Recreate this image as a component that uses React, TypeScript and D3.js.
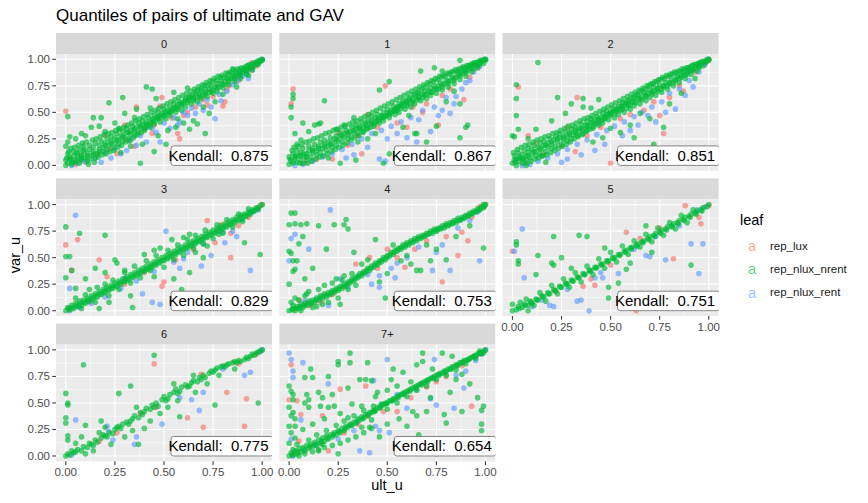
import React from "react";
import * as d3 from "d3";

// ---------- data ----------
const facetLabels = ["0", "1", "2", "3", "4", "5", "6", "7+"];
const kendall = [0.875, 0.867, 0.851, 0.829, 0.753, 0.751, 0.775, 0.654];
const tickValues = [0, 0.25, 0.5, 0.75, 1];
const tickLabels = ["0.00", "0.25", "0.50", "0.75", "1.00"];
const minorTicks = [0.125, 0.375, 0.625, 0.875];
const leafNames = ["rep_lux", "rep_nlux_nrent", "rep_nlux_rent"];
const leafColors = ["#F8766D", "#00BA38", "#619CFF"];

// points stored as flat (ult_u, var_u) pairs
const p0Lux = [0.00,0.51, 0.80,0.56, 0.81,0.60, 0.58,0.25, 0.57,0.30, 0.26,0.11, 0.35,0.18, 0.36,0.55, 0.49,0.64, 0.83,0.75, 0.82,0.71, 0.93,0.90, 0.70,0.62, 0.66,0.55, 0.54,0.45, 0.45,0.38, 0.40,0.34, 0.31,0.24, 0.22,0.15, 0.16,0.10, 0.10,0.03, 0.05,0.01, 0.62,0.50, 0.75,0.65, 0.88,0.80, 0.97,0.94, 0.30,0.38, 0.48,0.56, 0.20,0.28, 0.60,0.47, 0.72,0.57, 0.88,0.84, 0.95,0.97, 0.44,0.30];
const p0Rent = [0.79,0.61, 0.76,0.44, 0.48,0.22, 0.28,0.11, 0.41,0.22, 0.88,0.82, 0.93,0.82, 0.53,0.35, 0.50,0.40, 0.55,0.45, 0.60,0.50, 0.64,0.54, 0.68,0.58, 0.72,0.62, 0.78,0.67, 0.85,0.76, 0.90,0.84, 0.95,0.90, 0.98,0.96, 1.00,1.00, 0.44,0.35, 0.38,0.28, 0.33,0.24, 0.25,0.16, 0.20,0.12, 0.15,0.07, 0.10,0.04, 0.06,0.02, 0.03,0.00, 0.18,0.03, 0.23,0.07, 0.31,0.14, 0.36,0.19, 0.46,0.31, 0.58,0.41, 0.62,0.47, 0.70,0.52, 0.74,0.55, 0.82,0.70, 0.87,0.79, 0.92,0.87, 0.57,0.38, 0.66,0.49];
const p0Nrent = [0.00,0.00, 0.01,0.02, 0.00,0.05, 0.02,0.08, 0.01,0.11, 0.03,0.01, 0.03,0.05, 0.04,0.09, 0.04,0.13, 0.05,0.03, 0.06,0.07, 0.06,0.11, 0.07,0.15, 0.07,0.02, 0.08,0.05, 0.08,0.10, 0.09,0.13, 0.09,0.18, 0.10,0.07, 0.11,0.04, 0.11,0.11, 0.12,0.15, 0.12,0.19, 0.13,0.09, 0.14,0.13, 0.14,0.17, 0.15,0.21, 0.15,0.07, 0.16,0.11, 0.17,0.15, 0.17,0.19, 0.18,0.23, 0.19,0.13, 0.19,0.17, 0.20,0.21, 0.21,0.25, 0.21,0.15, 0.22,0.19, 0.23,0.23, 0.23,0.27, 0.24,0.17, 0.25,0.21, 0.25,0.26, 0.26,0.30, 0.27,0.20, 0.27,0.24, 0.28,0.28, 0.29,0.32, 0.29,0.23, 0.30,0.27, 0.31,0.31, 0.31,0.35, 0.32,0.25, 0.33,0.29, 0.33,0.33, 0.34,0.37, 0.35,0.28, 0.35,0.32, 0.36,0.36, 0.37,0.40, 0.37,0.31, 0.38,0.35, 0.39,0.38, 0.39,0.42, 0.40,0.33, 0.41,0.37, 0.41,0.41, 0.42,0.45, 0.43,0.36, 0.43,0.40, 0.44,0.44, 0.45,0.47, 0.45,0.39, 0.46,0.43, 0.47,0.46, 0.47,0.50, 0.48,0.41, 0.49,0.45, 0.49,0.49, 0.50,0.53, 0.51,0.44, 0.51,0.48, 0.52,0.52, 0.53,0.55, 0.53,0.47, 0.54,0.51, 0.55,0.54, 0.55,0.58, 0.56,0.50, 0.57,0.53, 0.57,0.57, 0.58,0.60, 0.59,0.52, 0.59,0.56, 0.60,0.59, 0.61,0.63, 0.61,0.55, 0.62,0.59, 0.63,0.62, 0.63,0.65, 0.64,0.58, 0.65,0.61, 0.65,0.64, 0.66,0.68, 0.67,0.60, 0.67,0.64, 0.68,0.67, 0.69,0.70, 0.69,0.63, 0.70,0.66, 0.71,0.69, 0.71,0.72, 0.72,0.65, 0.73,0.69, 0.73,0.72, 0.74,0.75, 0.75,0.68, 0.75,0.71, 0.76,0.74, 0.77,0.77, 0.77,0.70, 0.78,0.74, 0.79,0.77, 0.79,0.80, 0.80,0.73, 0.81,0.76, 0.81,0.79, 0.82,0.82, 0.83,0.76, 0.83,0.79, 0.84,0.82, 0.85,0.84, 0.86,0.79, 0.86,0.82, 0.87,0.85, 0.88,0.87, 0.89,0.82, 0.89,0.85, 0.90,0.88, 0.91,0.90, 0.92,0.86, 0.92,0.89, 0.93,0.91, 0.94,0.93, 0.95,0.90, 0.95,0.92, 0.96,0.94, 0.97,0.96, 0.98,0.95, 0.98,0.97, 0.99,0.98, 1.00,0.99, 1.00,1.00,
  0.41,0.74, 0.44,0.72, 0.29,0.64, 0.22,0.59, 0.01,0.46, 0.14,0.45, 0.18,0.45, 0.13,0.36, 0.17,0.37, 0.02,0.27, 0.00,0.18, 0.01,0.22, 0.38,0.02, 0.51,0.20, 0.45,0.13, 0.39,0.20, 0.71,0.30, 0.67,0.39, 0.73,0.49, 0.65,0.42, 0.63,0.34, 0.36,0.53, 0.30,0.49, 0.25,0.40, 0.08,0.30, 0.05,0.25, 0.10,0.28, 0.46,0.63, 0.55,0.69, 0.62,0.73, 0.85,0.91, 0.60,0.40, 0.56,0.36, 0.33,0.18, 0.28,0.12, 0.47,0.28, 0.52,0.33, 0.57,0.44, 0.70,0.55, 0.76,0.60, 0.80,0.67, 0.87,0.74, 0.93,0.85, 0.35,0.45, 0.27,0.35, 0.20,0.32, 0.43,0.54];
const p0NrentBand = [0.005,0.07, 0.015,0.13, 0.025,0.16, 0.035,0.03, 0.045,0.17, 0.055,0.12, 0.065,0.19, 0.075,0.06, 0.085,0.21, 0.095,0.15, 0.105,0.22, 0.115,0.01, 0.125,0.06, 0.135,0.24, 0.145,0.03, 0.155,0.25, 0.165,0.08, 0.175,0.27, 0.185,0.10, 0.195,0.29, 0.205,0.11, 0.215,0.30, 0.225,0.13, 0.235,0.31, 0.245,0.14, 0.255,0.33, 0.265,0.17, 0.275,0.34, 0.285,0.19, 0.295,0.36, 0.305,0.22, 0.315,0.38, 0.325,0.23, 0.335,0.40, 0.345,0.26, 0.355,0.42, 0.365,0.29, 0.375,0.44, 0.385,0.31, 0.395,0.46, 0.405,0.35, 0.415,0.48, 0.425,0.38, 0.435,0.50, 0.445,0.41, 0.455,0.52, 0.465,0.45, 0.475,0.54, 0.485,0.47, 0.495,0.56, 0.505,0.50, 0.515,0.58, 0.525,0.50, 0.535,0.60, 0.545,0.53, 0.555,0.62, 0.565,0.55, 0.575,0.64, 0.585,0.58, 0.595,0.66, 0.605,0.61, 0.615,0.68, 0.625,0.64, 0.635,0.70, 0.645,0.66, 0.655,0.72, 0.665,0.70, 0.675,0.74, 0.685,0.72, 0.695,0.76, 0.705,0.75, 0.715,0.78, 0.725,0.76, 0.735,0.80, 0.745,0.79, 0.755,0.82, 0.765,0.80, 0.775,0.84, 0.785,0.83, 0.795,0.85, 0.805,0.83, 0.815,0.87, 0.825,0.86, 0.835,0.88, 0.845,0.87, 0.855,0.90, 0.865,0.88, 0.875,0.91, 0.885,0.90, 0.895,0.92, 0.905,0.91, 0.915,0.93, 0.925,0.94, 0.935,0.95, 0.945,0.95, 0.955,0.96, 0.965,0.97, 0.975,0.98, 0.985,0.99, 0.995,0.99,
  0.02,0.06, 0.05,0.05, 0.08,0.08, 0.11,0.09, 0.14,0.11, 0.17,0.13, 0.20,0.19, 0.23,0.21, 0.26,0.24, 0.29,0.27, 0.32,0.31, 0.35,0.34, 0.38,0.37, 0.41,0.39, 0.44,0.42, 0.47,0.44, 0.50,0.47, 0.53,0.50, 0.56,0.54, 0.59,0.58, 0.62,0.61, 0.65,0.63, 0.68,0.65, 0.71,0.67, 0.74,0.70, 0.77,0.73, 0.80,0.76, 0.83,0.81, 0.86,0.84, 0.89,0.87, 0.92,0.91, 0.95,0.94];

const p1Lux = [0.02,0.72, 0.01,0.58, 0.49,0.75, 0.89,0.62, 0.76,0.38, 0.60,0.36, 0.37,0.11, 0.22,0.06, 0.70,0.58, 0.82,0.72, 0.92,0.83, 0.55,0.40, 0.45,0.36, 0.30,0.19, 0.14,0.06, 0.08,0.02, 0.63,0.55, 0.96,0.92, 0.40,0.48, 0.25,0.31, 0.78,0.66, 0.68,0.50, 0.35,0.28];
const p1Rent = [0.78,0.52, 0.82,0.49, 0.65,0.22, 0.46,0.06, 0.49,0.04, 0.72,0.32, 0.85,0.65, 0.90,0.78, 0.94,0.88, 0.97,0.93, 1.00,1.00, 0.88,0.72, 0.80,0.64, 0.74,0.55, 0.68,0.52, 0.62,0.45, 0.57,0.41, 0.52,0.37, 0.47,0.33, 0.42,0.30, 0.37,0.25, 0.32,0.20, 0.27,0.15, 0.22,0.11, 0.17,0.08, 0.12,0.04, 0.07,0.01, 0.03,0.00, 0.40,0.17, 0.33,0.10, 0.55,0.30, 0.60,0.26, 0.76,0.47, 0.84,0.58, 0.92,0.80, 0.66,0.43, 0.50,0.25, 0.29,0.07];
const p1Nrent = [0.00,0.01, 0.01,0.04, 0.00,0.08, 0.02,0.02, 0.02,0.11, 0.03,0.06, 0.04,0.03, 0.04,0.14, 0.05,0.09, 0.06,0.05, 0.06,0.12, 0.07,0.02, 0.07,0.16, 0.08,0.08, 0.09,0.11, 0.09,0.05, 0.10,0.14, 0.10,0.18, 0.11,0.08, 0.12,0.12, 0.12,0.16, 0.13,0.20, 0.14,0.10, 0.14,0.14, 0.15,0.18, 0.16,0.22, 0.16,0.12, 0.17,0.16, 0.18,0.20, 0.18,0.24, 0.19,0.14, 0.20,0.18, 0.20,0.22, 0.21,0.26, 0.22,0.17, 0.22,0.21, 0.23,0.25, 0.24,0.28, 0.24,0.19, 0.25,0.23, 0.26,0.27, 0.26,0.31, 0.27,0.22, 0.28,0.26, 0.28,0.30, 0.29,0.33, 0.30,0.25, 0.30,0.29, 0.31,0.32, 0.32,0.36, 0.32,0.27, 0.33,0.31, 0.34,0.35, 0.34,0.38, 0.35,0.30, 0.36,0.34, 0.36,0.37, 0.37,0.41, 0.38,0.32, 0.38,0.36, 0.39,0.40, 0.40,0.43, 0.40,0.35, 0.41,0.39, 0.42,0.42, 0.42,0.46, 0.43,0.37, 0.44,0.41, 0.44,0.45, 0.45,0.48, 0.46,0.40, 0.46,0.44, 0.47,0.47, 0.48,0.50, 0.48,0.42, 0.49,0.46, 0.50,0.49, 0.50,0.53, 0.51,0.45, 0.52,0.49, 0.52,0.52, 0.53,0.56, 0.54,0.48, 0.54,0.51, 0.55,0.55, 0.56,0.58, 0.56,0.50, 0.57,0.54, 0.58,0.57, 0.58,0.61, 0.59,0.53, 0.60,0.56, 0.60,0.60, 0.61,0.63, 0.62,0.55, 0.62,0.59, 0.63,0.62, 0.64,0.66, 0.64,0.58, 0.65,0.62, 0.66,0.65, 0.66,0.68, 0.67,0.61, 0.68,0.64, 0.68,0.67, 0.69,0.70, 0.70,0.63, 0.70,0.67, 0.71,0.70, 0.72,0.73, 0.72,0.66, 0.73,0.69, 0.74,0.72, 0.74,0.75, 0.75,0.68, 0.76,0.72, 0.76,0.75, 0.77,0.78, 0.78,0.71, 0.78,0.74, 0.79,0.77, 0.80,0.80, 0.81,0.74, 0.81,0.77, 0.82,0.80, 0.83,0.83, 0.84,0.77, 0.84,0.80, 0.85,0.83, 0.86,0.86, 0.87,0.81, 0.87,0.84, 0.88,0.87, 0.89,0.89, 0.90,0.84, 0.90,0.87, 0.91,0.90, 0.92,0.92, 0.93,0.88, 0.94,0.91, 0.94,0.94, 0.95,0.95, 0.96,0.92, 0.97,0.95, 0.97,0.97, 0.98,0.98, 0.99,0.96, 1.00,0.99, 1.00,1.00,
  0.02,0.67, 0.02,0.63, 0.01,0.55, 0.01,0.45, 0.18,0.61, 0.07,0.40, 0.13,0.38, 0.15,0.39, 0.16,0.40, 0.10,0.32, 0.51,0.79, 0.46,0.71, 0.67,0.89, 0.74,0.92, 0.78,0.89, 0.87,0.99, 0.87,0.58, 0.75,0.37, 0.91,0.38, 0.90,0.36, 0.87,0.26, 0.70,0.22, 0.64,0.30, 0.65,0.30, 0.58,0.36, 0.55,0.52, 0.51,0.11, 0.48,0.02, 0.34,0.05, 0.26,0.02, 0.40,0.25, 0.35,0.22, 0.28,0.38, 0.33,0.45, 0.24,0.34, 0.06,0.24, 0.03,0.30, 0.80,0.60, 0.84,0.70, 0.61,0.47, 0.44,0.30, 0.20,0.07, 0.04,0.20];
const p1NrentBand = [0.005,0.06, 0.015,0.14, 0.025,0.17, 0.035,0.09, 0.045,0.18, 0.055,0.02, 0.065,0.20, 0.075,0.11, 0.085,0.22, 0.095,0.02, 0.105,0.23, 0.115,0.04, 0.125,0.25, 0.135,0.06, 0.145,0.26, 0.155,0.08, 0.165,0.28, 0.175,0.09, 0.185,0.30, 0.195,0.11, 0.205,0.31, 0.215,0.13, 0.225,0.33, 0.235,0.15, 0.245,0.34, 0.255,0.17, 0.265,0.36, 0.275,0.19, 0.285,0.37, 0.295,0.21, 0.305,0.39, 0.315,0.24, 0.325,0.41, 0.335,0.26, 0.345,0.42, 0.355,0.28, 0.365,0.44, 0.375,0.31, 0.385,0.46, 0.395,0.34, 0.405,0.48, 0.415,0.36, 0.425,0.50, 0.435,0.39, 0.445,0.52, 0.455,0.42, 0.465,0.54, 0.475,0.45, 0.485,0.56, 0.495,0.47, 0.505,0.58, 0.515,0.50, 0.525,0.60, 0.535,0.52, 0.545,0.62, 0.555,0.55, 0.565,0.64, 0.575,0.58, 0.585,0.66, 0.595,0.61, 0.605,0.68, 0.615,0.64, 0.625,0.70, 0.635,0.67, 0.645,0.72, 0.655,0.69, 0.665,0.74, 0.675,0.72, 0.685,0.76, 0.695,0.74, 0.705,0.78, 0.715,0.77, 0.725,0.80, 0.735,0.79, 0.745,0.82, 0.755,0.81, 0.765,0.84, 0.775,0.83, 0.785,0.85, 0.795,0.84, 0.805,0.87, 0.815,0.86, 0.825,0.88, 0.835,0.88, 0.845,0.90, 0.855,0.89, 0.865,0.91, 0.875,0.91, 0.885,0.93, 0.895,0.92, 0.905,0.94, 0.915,0.94, 0.925,0.95, 0.935,0.96, 0.945,0.97, 0.955,0.97, 0.965,0.98, 0.975,0.99, 0.985,0.99, 0.995,1.00,
  0.03,0.08, 0.06,0.09, 0.09,0.08, 0.12,0.14, 0.15,0.16, 0.18,0.18, 0.21,0.20, 0.24,0.24, 0.27,0.28, 0.30,0.31, 0.33,0.33, 0.36,0.35, 0.39,0.38, 0.42,0.40, 0.45,0.43, 0.48,0.46, 0.51,0.48, 0.54,0.53, 0.57,0.56, 0.60,0.58, 0.63,0.60, 0.66,0.63, 0.69,0.66, 0.72,0.69, 0.75,0.72, 0.78,0.76, 0.81,0.79, 0.84,0.82, 0.87,0.86, 0.90,0.89, 0.93,0.92, 0.96,0.95];

const p2Lux = [0.03,0.74, 0.33,0.64, 0.08,0.28, 0.77,0.30, 0.87,0.70, 0.80,0.64, 0.75,0.47, 0.50,0.02, 0.32,0.13, 0.60,0.48, 0.67,0.52, 0.85,0.75, 0.93,0.88, 0.45,0.36, 0.38,0.28, 0.25,0.18, 0.16,0.10, 0.06,0.03, 0.55,0.44, 0.72,0.60, 0.98,0.95, 0.28,0.36, 0.12,0.21];
const p2Rent = [0.83,0.53, 0.88,0.66, 0.73,0.41, 0.47,0.20, 0.25,0.03, 0.69,0.47, 0.90,0.80, 0.95,0.88, 0.98,0.95, 1.00,1.00, 0.85,0.72, 0.80,0.68, 0.76,0.60, 0.71,0.55, 0.66,0.50, 0.62,0.46, 0.57,0.41, 0.52,0.37, 0.48,0.33, 0.43,0.29, 0.38,0.24, 0.33,0.20, 0.28,0.15, 0.23,0.11, 0.18,0.07, 0.13,0.04, 0.09,0.01, 0.05,0.00, 0.35,0.10, 0.42,0.14, 0.56,0.28, 0.64,0.38, 0.78,0.50, 0.92,0.74, 0.28,0.06, 0.60,0.33];
const p2Nrent = [0.00,0.02, 0.01,0.05, 0.01,0.09, 0.02,0.00, 0.03,0.04, 0.03,0.12, 0.04,0.07, 0.05,0.02, 0.05,0.10, 0.06,0.14, 0.07,0.05, 0.07,0.09, 0.08,0.12, 0.08,0.16, 0.09,0.07, 0.10,0.11, 0.10,0.15, 0.11,0.19, 0.12,0.09, 0.12,0.13, 0.13,0.17, 0.14,0.21, 0.14,0.11, 0.15,0.15, 0.16,0.19, 0.16,0.23, 0.17,0.13, 0.18,0.17, 0.18,0.21, 0.19,0.25, 0.20,0.16, 0.20,0.20, 0.21,0.24, 0.22,0.27, 0.22,0.18, 0.23,0.22, 0.24,0.26, 0.24,0.30, 0.25,0.20, 0.26,0.24, 0.26,0.28, 0.27,0.32, 0.28,0.23, 0.28,0.27, 0.29,0.31, 0.30,0.34, 0.30,0.25, 0.31,0.29, 0.32,0.33, 0.32,0.36, 0.33,0.28, 0.34,0.32, 0.34,0.35, 0.35,0.39, 0.36,0.30, 0.36,0.34, 0.37,0.38, 0.38,0.41, 0.38,0.33, 0.39,0.37, 0.40,0.40, 0.40,0.44, 0.41,0.35, 0.42,0.39, 0.42,0.43, 0.43,0.46, 0.44,0.38, 0.44,0.42, 0.45,0.45, 0.46,0.49, 0.46,0.40, 0.47,0.44, 0.48,0.48, 0.48,0.51, 0.49,0.43, 0.50,0.47, 0.50,0.50, 0.51,0.54, 0.52,0.45, 0.52,0.49, 0.53,0.53, 0.54,0.56, 0.54,0.48, 0.55,0.52, 0.56,0.55, 0.56,0.59, 0.57,0.50, 0.58,0.54, 0.58,0.58, 0.59,0.61, 0.60,0.53, 0.60,0.57, 0.61,0.60, 0.62,0.64, 0.62,0.56, 0.63,0.59, 0.64,0.63, 0.64,0.66, 0.65,0.58, 0.66,0.62, 0.66,0.65, 0.67,0.69, 0.68,0.61, 0.68,0.65, 0.69,0.68, 0.70,0.71, 0.70,0.64, 0.71,0.67, 0.72,0.70, 0.72,0.74, 0.73,0.66, 0.74,0.70, 0.74,0.73, 0.75,0.76, 0.76,0.69, 0.76,0.72, 0.77,0.75, 0.78,0.78, 0.79,0.72, 0.79,0.75, 0.80,0.78, 0.81,0.81, 0.82,0.75, 0.82,0.78, 0.83,0.81, 0.84,0.84, 0.85,0.78, 0.85,0.82, 0.86,0.85, 0.87,0.87, 0.88,0.82, 0.88,0.85, 0.89,0.88, 0.90,0.90, 0.91,0.86, 0.91,0.89, 0.92,0.91, 0.93,0.93, 0.94,0.89, 0.95,0.92, 0.95,0.95, 0.96,0.96, 0.97,0.94, 0.98,0.97, 0.99,0.98, 1.00,0.99, 1.00,1.00,
  0.13,0.97, 0.02,0.76, 0.02,0.63, 0.02,0.47, 0.03,0.34, 0.00,0.28, 0.01,0.27, 0.23,0.64, 0.36,0.63, 0.27,0.49, 0.36,0.55, 0.72,0.20, 0.70,0.44, 0.41,0.22, 0.17,0.03, 0.15,0.09, 0.44,0.62, 0.30,0.58, 0.20,0.42, 0.12,0.34, 0.08,0.25, 0.55,0.31, 0.60,0.38, 0.65,0.49, 0.80,0.58, 0.86,0.68, 0.50,0.35, 0.46,0.26, 0.07,0.00, 0.62,0.26, 0.77,0.36, 0.93,0.82, 0.40,0.54];
const p2NrentBand = [0.005,0.12, 0.015,0.03, 0.025,0.15, 0.035,0.08, 0.045,0.17, 0.055,0.06, 0.065,0.19, 0.075,0.02, 0.085,0.20, 0.095,0.04, 0.105,0.22, 0.115,0.06, 0.125,0.24, 0.135,0.07, 0.145,0.25, 0.155,0.09, 0.165,0.27, 0.175,0.10, 0.185,0.28, 0.195,0.12, 0.205,0.30, 0.215,0.14, 0.225,0.31, 0.235,0.16, 0.245,0.33, 0.255,0.18, 0.265,0.35, 0.275,0.20, 0.285,0.37, 0.295,0.22, 0.305,0.38, 0.315,0.25, 0.325,0.40, 0.335,0.27, 0.345,0.42, 0.355,0.29, 0.365,0.44, 0.375,0.32, 0.385,0.45, 0.395,0.34, 0.405,0.47, 0.415,0.37, 0.425,0.49, 0.435,0.40, 0.445,0.51, 0.455,0.42, 0.465,0.53, 0.475,0.45, 0.485,0.55, 0.495,0.48, 0.505,0.57, 0.515,0.51, 0.525,0.59, 0.535,0.53, 0.545,0.61, 0.555,0.56, 0.565,0.63, 0.575,0.59, 0.585,0.65, 0.595,0.62, 0.605,0.67, 0.615,0.64, 0.625,0.69, 0.635,0.67, 0.645,0.71, 0.655,0.70, 0.665,0.73, 0.675,0.72, 0.685,0.75, 0.695,0.75, 0.705,0.77, 0.715,0.77, 0.725,0.79, 0.735,0.79, 0.745,0.81, 0.755,0.81, 0.765,0.83, 0.775,0.82, 0.785,0.85, 0.795,0.84, 0.805,0.86, 0.815,0.86, 0.825,0.88, 0.835,0.87, 0.845,0.89, 0.855,0.89, 0.865,0.91, 0.875,0.90, 0.885,0.92, 0.895,0.92, 0.905,0.93, 0.915,0.94, 0.925,0.95, 0.935,0.95, 0.945,0.96, 0.955,0.97, 0.965,0.98, 0.975,0.98, 0.985,0.99, 0.995,1.00,
  0.02,0.06, 0.05,0.06, 0.08,0.09, 0.11,0.13, 0.14,0.16, 0.17,0.19, 0.20,0.22, 0.23,0.25, 0.26,0.26, 0.29,0.29, 0.32,0.31, 0.35,0.35, 0.38,0.37, 0.41,0.41, 0.44,0.44, 0.47,0.46, 0.50,0.49, 0.53,0.51, 0.56,0.53, 0.59,0.57, 0.62,0.60, 0.65,0.62, 0.68,0.66, 0.71,0.69, 0.74,0.72, 0.77,0.74, 0.80,0.77, 0.83,0.80, 0.86,0.83, 0.89,0.86, 0.92,0.90, 0.95,0.93];

const p3Lux = [0.06,0.67, 0.00,0.62, 0.17,0.48, 0.03,0.38, 0.21,0.32, 0.72,0.85, 0.76,0.64, 0.84,0.50, 0.50,0.27, 0.49,0.23, 0.84,0.73, 0.93,0.88, 0.98,0.97, 1.00,1.00, 0.65,0.58, 0.40,0.36, 0.30,0.25, 0.12,0.08, 0.56,0.48, 0.79,0.81, 0.88,0.80];
const p3Rent = [0.05,0.90, 0.02,0.21, 0.51,0.75, 0.81,0.64, 0.85,0.75, 0.94,0.38, 0.69,0.42, 0.60,0.49, 0.44,0.08, 0.48,0.06, 0.30,0.30, 0.39,0.16, 0.95,0.93, 0.98,0.95, 0.90,0.86, 0.80,0.74, 0.70,0.63, 0.62,0.55, 0.55,0.46, 0.45,0.37, 0.36,0.28, 0.28,0.21, 0.20,0.13, 0.13,0.07, 0.07,0.03, 0.02,0.00, 0.74,0.52, 0.58,0.40, 0.87,0.70];
const p3Nrent = [0.00,0.00, 0.01,0.03, 0.02,0.01, 0.03,0.05, 0.04,0.02, 0.05,0.07, 0.06,0.04, 0.07,0.09, 0.08,0.05, 0.09,0.10, 0.10,0.07, 0.11,0.12, 0.12,0.09, 0.13,0.14, 0.14,0.11, 0.15,0.16, 0.16,0.13, 0.17,0.18, 0.18,0.15, 0.19,0.20, 0.20,0.17, 0.21,0.22, 0.22,0.19, 0.23,0.24, 0.24,0.21, 0.25,0.26, 0.26,0.23, 0.27,0.28, 0.28,0.25, 0.29,0.30, 0.30,0.27, 0.31,0.32, 0.32,0.29, 0.33,0.34, 0.34,0.31, 0.35,0.36, 0.36,0.33, 0.37,0.38, 0.38,0.35, 0.39,0.40, 0.40,0.37, 0.41,0.42, 0.42,0.39, 0.43,0.44, 0.44,0.41, 0.45,0.46, 0.46,0.43, 0.47,0.48, 0.48,0.45, 0.49,0.50, 0.50,0.47, 0.51,0.52, 0.52,0.49, 0.53,0.54, 0.54,0.51, 0.55,0.56, 0.56,0.53, 0.57,0.58, 0.58,0.55, 0.59,0.60, 0.60,0.57, 0.61,0.62, 0.62,0.59, 0.63,0.64, 0.64,0.61, 0.65,0.66, 0.66,0.63, 0.67,0.68, 0.68,0.65, 0.69,0.70, 0.70,0.67, 0.71,0.72, 0.72,0.69, 0.73,0.74, 0.74,0.71, 0.75,0.76, 0.76,0.73, 0.77,0.78, 0.78,0.75, 0.79,0.80, 0.80,0.77, 0.81,0.82, 0.82,0.79, 0.83,0.84, 0.84,0.81, 0.85,0.86, 0.86,0.83, 0.87,0.88, 0.88,0.85, 0.89,0.90, 0.90,0.87, 0.91,0.91, 0.92,0.89, 0.93,0.93, 0.94,0.91, 0.95,0.95, 0.96,0.94, 0.97,0.97, 0.98,0.96, 0.99,0.99, 1.00,1.00,
  0.10,0.15, 0.12,0.20, 0.16,0.22, 0.20,0.25, 0.24,0.29, 0.05,0.12, 0.08,0.02, 0.15,0.08, 0.22,0.14, 0.27,0.20, 0.33,0.26, 0.38,0.31, 0.43,0.38, 0.30,0.36, 0.35,0.42, 0.41,0.47, 0.46,0.52, 0.52,0.57, 0.57,0.62, 0.62,0.67, 0.66,0.71, 0.71,0.76, 0.77,0.81, 0.82,0.86, 0.88,0.91, 0.93,0.96, 0.55,0.48, 0.60,0.52, 0.65,0.59, 0.70,0.63, 0.75,0.68, 0.80,0.73, 0.85,0.79, 0.90,0.84,
  0.00,0.79, 0.07,0.73, 0.20,0.71, 0.02,0.51, 0.00,0.51, 0.25,0.48, 0.26,0.45, 0.15,0.40, 0.03,0.38, 0.00,0.31, 0.54,0.67, 0.63,0.72, 0.60,0.69, 0.91,0.64, 0.99,0.53, 0.63,0.36, 0.59,0.20, 0.34,0.03, 0.17,0.02, 0.20,0.36, 0.30,0.38, 0.40,0.53, 0.45,0.57, 0.70,0.50, 0.66,0.55, 0.78,0.72, 0.50,0.41, 0.45,0.32, 0.10,0.30, 0.05,0.21, 0.33,0.14, 0.22,0.08, 0.72,0.61, 0.48,0.59, 0.55,0.30];
const p3NrentBand = [0.015,0.02, 0.035,0.03, 0.055,0.05, 0.075,0.07, 0.095,0.08, 0.115,0.10, 0.135,0.12, 0.155,0.14, 0.175,0.16, 0.195,0.18, 0.215,0.20, 0.235,0.22, 0.255,0.24, 0.275,0.26, 0.295,0.28, 0.315,0.30, 0.335,0.32, 0.355,0.34, 0.375,0.36, 0.395,0.38, 0.415,0.40, 0.435,0.42, 0.455,0.44, 0.475,0.46, 0.495,0.48, 0.515,0.50, 0.535,0.52, 0.555,0.54, 0.575,0.56, 0.595,0.58, 0.615,0.60, 0.635,0.62, 0.655,0.64, 0.675,0.66, 0.695,0.68, 0.715,0.70, 0.735,0.72, 0.755,0.74, 0.775,0.76, 0.795,0.78, 0.815,0.80, 0.835,0.82, 0.855,0.84, 0.875,0.86, 0.895,0.88, 0.915,0.90, 0.935,0.92, 0.955,0.94, 0.975,0.96];

const p4Lux = [0.50,0.58, 0.41,0.50, 0.34,0.44, 0.59,0.41, 0.86,0.52, 0.88,0.74, 0.91,0.66, 0.78,0.27, 0.10,0.05, 0.05,0.10, 0.16,0.08, 0.93,0.88, 0.97,0.98, 1.00,1.00, 0.70,0.66, 0.55,0.50, 0.64,0.58, 0.80,0.70, 0.22,0.15, 0.45,0.40];
const p4Rent = [0.21,0.95, 0.03,0.72, 0.01,0.68, 0.10,0.58, 0.00,0.47, 0.73,0.38, 0.82,0.38, 0.97,0.47, 0.46,0.33, 0.42,0.25, 0.46,0.22, 0.54,0.31, 0.20,0.05, 0.55,0.45, 0.78,0.62, 0.75,0.55, 0.60,0.50, 0.86,0.78, 0.92,0.85, 0.96,0.93, 0.99,0.98, 0.66,0.60, 0.40,0.34, 0.30,0.22, 0.26,0.30, 0.08,0.09, 0.52,0.40];
const p4Nrent = [0.00,0.00, 0.02,0.02, 0.03,0.00, 0.04,0.04, 0.05,0.02, 0.06,0.06, 0.07,0.03, 0.08,0.07, 0.09,0.05, 0.10,0.09, 0.11,0.06, 0.12,0.10, 0.13,0.08, 0.14,0.12, 0.15,0.10, 0.16,0.14, 0.17,0.11, 0.18,0.16, 0.19,0.13, 0.20,0.17, 0.21,0.15, 0.22,0.19, 0.23,0.17, 0.24,0.21, 0.25,0.19, 0.26,0.23, 0.27,0.21, 0.28,0.25, 0.29,0.23, 0.30,0.27, 0.31,0.26, 0.32,0.30, 0.33,0.28, 0.34,0.32, 0.35,0.31, 0.36,0.35, 0.37,0.33, 0.38,0.37, 0.39,0.36, 0.40,0.40, 0.41,0.38, 0.42,0.42, 0.43,0.41, 0.44,0.45, 0.45,0.43, 0.46,0.47, 0.47,0.46, 0.48,0.50, 0.49,0.48, 0.50,0.52, 0.51,0.51, 0.52,0.55, 0.53,0.53, 0.54,0.57, 0.55,0.56, 0.56,0.59, 0.57,0.58, 0.58,0.62, 0.59,0.60, 0.60,0.64, 0.61,0.62, 0.62,0.66, 0.63,0.64, 0.64,0.68, 0.65,0.66, 0.66,0.70, 0.67,0.68, 0.68,0.71, 0.69,0.70, 0.70,0.73, 0.71,0.72, 0.72,0.75, 0.73,0.73, 0.74,0.77, 0.75,0.75, 0.76,0.78, 0.77,0.77, 0.78,0.80, 0.79,0.78, 0.80,0.82, 0.81,0.80, 0.82,0.83, 0.83,0.82, 0.84,0.85, 0.85,0.83, 0.86,0.87, 0.87,0.85, 0.88,0.88, 0.89,0.87, 0.90,0.90, 0.91,0.89, 0.92,0.92, 0.93,0.91, 0.94,0.94, 0.95,0.93, 0.96,0.96, 0.97,0.95, 0.98,0.98, 0.99,0.97, 1.00,1.00, 0.99,1.00,
  0.01,0.08, 0.03,0.12, 0.05,0.10, 0.08,0.14, 0.10,0.18, 0.12,0.03, 0.06,0.00, 0.15,0.20, 0.18,0.24, 0.20,0.08, 0.22,0.26, 0.25,0.12, 0.27,0.29, 0.30,0.20, 0.32,0.35, 0.34,0.24, 0.02,0.05, 0.09,0.16, 0.14,0.04, 0.17,0.06, 0.24,0.30, 0.28,0.33,
  0.01,0.92, 0.03,0.92, 0.00,0.81, 0.03,0.82, 0.06,0.81, 0.09,0.82, 0.15,0.80, 0.23,0.81, 0.28,0.81, 0.30,0.77, 0.29,0.86, 0.07,0.70, 0.19,0.58, 0.00,0.56, 0.01,0.54, 0.02,0.47, 0.04,0.47, 0.02,0.37, 0.03,0.39, 0.08,0.30, 0.00,0.25, 0.44,0.67, 0.53,0.62, 0.65,0.38, 0.67,0.38, 0.72,0.47, 0.80,0.48, 0.99,0.59, 0.49,0.12, 0.60,0.52, 0.57,0.47, 0.40,0.48, 0.37,0.44, 0.50,0.35, 0.62,0.44, 0.75,0.58, 0.85,0.70, 0.92,0.80, 0.12,0.40, 0.05,0.63, 0.33,0.55, 0.70,0.62, 0.46,0.27, 0.26,0.06];
const p4NrentBand = [0.015,0.01, 0.035,0.02, 0.055,0.04, 0.075,0.05, 0.095,0.07, 0.115,0.08, 0.135,0.10, 0.155,0.12, 0.175,0.14, 0.195,0.15, 0.215,0.17, 0.235,0.19, 0.255,0.21, 0.275,0.23, 0.295,0.25, 0.315,0.28, 0.335,0.30, 0.355,0.33, 0.375,0.35, 0.395,0.38, 0.415,0.40, 0.435,0.43, 0.455,0.45, 0.475,0.48, 0.495,0.50, 0.515,0.53, 0.535,0.55, 0.555,0.58, 0.575,0.60, 0.595,0.62, 0.615,0.64, 0.635,0.66, 0.655,0.68, 0.675,0.69, 0.695,0.71, 0.715,0.73, 0.735,0.75, 0.755,0.76, 0.775,0.78, 0.795,0.80, 0.815,0.81, 0.835,0.83, 0.855,0.85, 0.875,0.86, 0.895,0.88, 0.915,0.90, 0.935,0.92, 0.955,0.94, 0.975,0.96, 0.995,0.99];

const p5Lux = [0.00,0.56, 0.58,0.74, 0.42,0.24, 0.36,0.23, 0.50,0.43, 0.82,0.49, 0.88,0.99, 1.00,0.99, 0.96,0.82, 0.63,0.00, 0.95,0.88, 0.75,0.78, 0.40,0.30, 0.22,0.18, 0.65,0.68];
const p5Rent = [0.05,0.77, 0.01,0.56, 0.06,0.31, 0.46,0.31, 0.42,0.31, 0.54,0.35, 0.68,0.52, 0.70,0.51, 0.78,0.48, 0.95,0.35, 0.91,0.63, 0.97,0.63, 0.39,0.00, 0.33,0.09, 0.35,0.10, 0.19,0.05, 0.21,0.04, 0.98,0.98, 0.94,0.95, 0.85,0.80, 0.73,0.70, 0.62,0.58, 0.28,0.20, 0.15,0.10, 0.10,0.04, 0.45,0.36];
const p5Nrent = [0.00,0.00, 0.02,0.01, 0.03,0.04, 0.05,0.03, 0.06,0.06, 0.08,0.05, 0.09,0.09, 0.10,0.07, 0.12,0.11, 0.13,0.10, 0.15,0.14, 0.16,0.13, 0.18,0.17, 0.19,0.16, 0.21,0.20, 0.22,0.19, 0.24,0.23, 0.25,0.22, 0.27,0.26, 0.28,0.25, 0.30,0.29, 0.31,0.28, 0.33,0.32, 0.34,0.31, 0.36,0.35, 0.37,0.34, 0.39,0.38, 0.40,0.38, 0.42,0.41, 0.43,0.41, 0.45,0.44, 0.46,0.44, 0.48,0.47, 0.49,0.47, 0.51,0.50, 0.52,0.50, 0.54,0.53, 0.55,0.53, 0.57,0.56, 0.58,0.57, 0.60,0.59, 0.61,0.60, 0.63,0.62, 0.64,0.63, 0.66,0.65, 0.67,0.66, 0.69,0.68, 0.70,0.70, 0.72,0.71, 0.73,0.73, 0.75,0.74, 0.76,0.76, 0.78,0.77, 0.79,0.79, 0.81,0.80, 0.82,0.82, 0.84,0.83, 0.85,0.85, 0.87,0.86, 0.88,0.88, 0.90,0.89, 0.91,0.91, 0.93,0.92, 0.94,0.94, 0.96,0.95, 0.97,0.97, 0.99,0.98, 1.00,1.00,
  0.04,0.08, 0.07,0.11, 0.11,0.05, 0.14,0.17, 0.17,0.09, 0.20,0.24, 0.23,0.16, 0.26,0.30, 0.29,0.22, 0.32,0.36, 0.35,0.27, 0.38,0.42, 0.41,0.34, 0.44,0.49, 0.47,0.40, 0.50,0.55, 0.53,0.46, 0.56,0.61, 0.59,0.53, 0.62,0.66, 0.65,0.60, 0.68,0.72, 0.71,0.65, 0.74,0.78, 0.77,0.71, 0.80,0.83, 0.83,0.77, 0.86,0.90, 0.89,0.83, 0.92,0.95,
  0.02,0.65, 0.02,0.62, 0.03,0.47, 0.03,0.44, 0.13,0.52, 0.20,0.45, 0.21,0.43, 0.21,0.70, 0.34,0.71, 0.38,0.70, 0.12,0.34, 0.49,0.22, 0.49,0.12, 0.54,0.26, 0.58,0.39, 0.91,0.43, 0.71,0.55, 0.68,0.80, 0.47,0.59, 0.30,0.40, 0.25,0.50, 0.60,0.45, 0.00,0.06, 0.08,0.00];
const p5NrentBand = [0.035,0.02, 0.065,0.05, 0.095,0.08, 0.125,0.10, 0.155,0.13, 0.185,0.16, 0.215,0.19, 0.245,0.22, 0.275,0.25, 0.305,0.28, 0.335,0.31, 0.365,0.34, 0.395,0.37, 0.425,0.40, 0.455,0.43, 0.485,0.46, 0.515,0.49, 0.545,0.52, 0.575,0.55, 0.605,0.58, 0.635,0.61, 0.665,0.64, 0.695,0.67, 0.725,0.70, 0.755,0.73, 0.785,0.76, 0.815,0.79, 0.845,0.82, 0.875,0.85, 0.905,0.88, 0.935,0.91, 0.965,0.94];

const p6Lux = [0.45,0.87, 0.69,0.77, 0.82,0.60, 0.46,0.46, 0.62,0.36, 0.92,0.54, 0.70,0.27, 0.91,0.28, 0.26,0.22, 0.17,0.14, 0.38,0.40, 0.88,0.87, 0.97,0.96];
const p6Rent = [0.05,0.34, 0.21,0.28, 0.22,0.23, 0.35,0.11, 0.36,0.18, 0.49,0.30, 0.68,0.43, 0.64,0.53, 0.70,0.60, 0.91,0.76, 0.94,0.79, 1.00,1.00, 0.99,0.98, 0.03,0.01, 0.58,0.55, 0.80,0.82, 0.24,0.15];
const p6Nrent = [0.00,0.00, 0.01,0.02, 0.02,0.01, 0.03,0.05, 0.04,0.03, 0.06,0.06, 0.08,0.05, 0.09,0.09, 0.11,0.08, 0.12,0.12, 0.14,0.10, 0.15,0.15, 0.16,0.13, 0.18,0.17, 0.19,0.20, 0.21,0.18, 0.22,0.22, 0.24,0.21, 0.25,0.25, 0.26,0.27, 0.28,0.26, 0.29,0.30, 0.31,0.32, 0.32,0.30, 0.34,0.35, 0.35,0.38, 0.37,0.36, 0.38,0.41, 0.40,0.42, 0.41,0.45, 0.43,0.44, 0.44,0.48, 0.46,0.50, 0.47,0.47, 0.49,0.53, 0.50,0.56, 0.52,0.54, 0.53,0.58, 0.55,0.60, 0.56,0.63, 0.58,0.61, 0.59,0.65, 0.61,0.67, 0.62,0.65, 0.64,0.69, 0.65,0.71, 0.67,0.70, 0.68,0.74, 0.70,0.76, 0.71,0.74, 0.73,0.78, 0.74,0.80, 0.76,0.81, 0.77,0.83, 0.79,0.84, 0.80,0.85, 0.82,0.86, 0.83,0.87, 0.85,0.88, 0.86,0.89, 0.88,0.90, 0.89,0.89, 0.91,0.91, 0.92,0.93, 0.94,0.94, 0.95,0.96, 0.96,0.95, 0.97,0.97, 0.98,0.98, 0.99,0.99, 1.00,1.00,
  0.09,0.86, 0.45,0.95, 0.33,0.66, 0.27,0.59, 0.00,0.59, 0.01,0.50, 0.01,0.48, 0.76,0.48, 0.98,0.50, 0.58,0.37, 0.40,0.26, 0.37,0.11, 0.10,0.29, 0.08,0.18, 0.01,0.19, 0.00,0.36, 0.00,0.31, 0.01,0.15, 0.20,0.27, 0.17,0.22, 0.14,0.05, 0.10,0.02, 0.05,0.12, 0.23,0.11, 0.30,0.18, 0.34,0.24, 0.43,0.33, 0.48,0.40, 0.52,0.46, 0.57,0.52, 0.66,0.60, 0.72,0.68, 0.78,0.76, 0.86,0.82, 0.65,0.76, 0.55,0.68, 0.36,0.46, 0.18,0.33];
const p6NrentBand = [0.05,0.04, 0.13,0.11, 0.20,0.19, 0.27,0.28, 0.33,0.33, 0.39,0.39, 0.45,0.46, 0.51,0.52, 0.57,0.59, 0.63,0.66, 0.69,0.72, 0.75,0.79, 0.81,0.84, 0.87,0.88, 0.93,0.92];

const p7Lux = [0.01,0.86, 0.00,0.53, 0.04,0.52, 0.06,0.39, 0.17,0.38, 0.26,0.63, 0.39,0.66, 0.05,0.14, 0.48,0.42, 0.55,0.42, 0.93,0.47, 0.62,0.55, 0.70,0.65, 0.80,0.75, 0.88,0.85, 0.95,0.93, 0.35,0.30, 0.28,0.22, 0.40,0.38, 0.20,0.05, 0.03,0.03, 0.75,0.70];
const p7Rent = [0.00,0.97, 0.01,0.91, 0.02,0.80, 0.02,0.74, 0.07,0.88, 0.06,0.34, 0.50,0.91, 0.74,0.91, 0.20,0.68, 0.43,0.71, 0.44,0.28, 0.46,0.24, 0.51,0.22, 0.41,0.03, 0.01,0.16, 0.89,0.64, 0.84,0.45, 0.75,0.48, 0.72,0.54, 0.60,0.45, 0.55,0.58, 0.90,0.80, 0.95,0.90, 1.00,1.00, 0.98,0.96, 0.85,0.76, 0.65,0.62, 0.33,0.24, 0.25,0.16, 0.02,0.00, 0.36,0.05, 0.13,0.10];
const p7Nrent = [0.00,0.00, 0.01,0.03, 0.02,0.01, 0.03,0.05, 0.04,0.02, 0.05,0.07, 0.06,0.04, 0.07,0.08, 0.08,0.05, 0.09,0.10, 0.10,0.07, 0.11,0.11, 0.12,0.09, 0.13,0.13, 0.14,0.10, 0.15,0.15, 0.16,0.12, 0.17,0.17, 0.18,0.14, 0.19,0.19, 0.20,0.16, 0.21,0.20, 0.22,0.18, 0.23,0.22, 0.24,0.20, 0.25,0.24, 0.26,0.22, 0.27,0.26, 0.28,0.24, 0.29,0.28, 0.30,0.27, 0.31,0.30, 0.32,0.29, 0.33,0.32, 0.34,0.31, 0.35,0.35, 0.36,0.34, 0.37,0.37, 0.38,0.36, 0.39,0.39, 0.40,0.38, 0.41,0.41, 0.42,0.41, 0.43,0.43, 0.44,0.43, 0.45,0.46, 0.46,0.45, 0.47,0.48, 0.48,0.48, 0.49,0.50, 0.50,0.50, 0.51,0.52, 0.52,0.52, 0.53,0.54, 0.54,0.54, 0.55,0.56, 0.56,0.57, 0.57,0.58, 0.58,0.59, 0.59,0.60, 0.60,0.61, 0.61,0.62, 0.62,0.63, 0.63,0.64, 0.64,0.65, 0.65,0.66, 0.66,0.67, 0.67,0.68, 0.68,0.69, 0.69,0.70, 0.70,0.71, 0.71,0.72, 0.72,0.73, 0.73,0.74, 0.74,0.75, 0.75,0.76, 0.76,0.77, 0.77,0.78, 0.78,0.78, 0.79,0.80, 0.80,0.80, 0.81,0.82, 0.82,0.82, 0.83,0.84, 0.84,0.84, 0.85,0.86, 0.86,0.86, 0.87,0.88, 0.88,0.88, 0.89,0.90, 0.90,0.90, 0.91,0.91, 0.92,0.92, 0.93,0.93, 0.94,0.94, 0.95,0.95, 0.96,0.96, 0.97,0.97, 0.98,0.97, 0.99,0.99, 1.00,1.00, 0.99,0.97, 0.97,0.99,
  0.05,0.00, 0.08,0.02, 0.12,0.04, 0.15,0.06, 0.18,0.08, 0.22,0.10, 0.26,0.12, 0.30,0.15, 0.34,0.18, 0.38,0.22, 0.42,0.26, 0.10,0.15, 0.14,0.20, 0.19,0.24, 0.24,0.29, 0.28,0.33, 0.33,0.38, 0.38,0.43, 0.43,0.47, 0.50,0.44, 0.55,0.50, 0.60,0.56, 0.65,0.62, 0.70,0.66, 0.75,0.72, 0.80,0.76, 0.85,0.81, 0.90,0.87, 0.95,0.92,
  0.11,0.82, 0.12,0.74, 0.08,0.74, 0.00,0.66, 0.01,0.61, 0.02,0.58, 0.02,0.53, 0.09,0.58, 0.10,0.53, 0.08,0.50, 0.10,0.46, 0.00,0.46, 0.02,0.41, 0.01,0.38, 0.03,0.35, 0.00,0.28, 0.03,0.28, 0.01,0.22, 0.03,0.17, 0.00,0.12, 0.04,0.11, 0.02,0.06, 0.25,0.89, 0.25,0.86, 0.31,0.97, 0.31,0.88, 0.40,0.88, 0.68,0.97, 0.68,0.89, 0.78,0.97, 0.83,0.94, 0.20,0.75, 0.30,0.64, 0.36,0.72, 0.39,0.72, 0.42,0.71, 0.53,0.82, 0.58,0.79, 0.62,0.70, 0.65,0.86, 0.52,0.72, 0.44,0.56, 0.47,0.49, 0.32,0.49, 0.37,0.47, 0.37,0.27, 0.41,0.27, 0.42,0.34, 0.66,0.20, 0.79,0.39, 0.80,0.31, 0.96,0.55, 0.99,0.47, 0.98,0.43, 0.88,0.42, 0.98,0.30, 0.98,0.24, 0.70,0.42, 0.65,0.38, 0.63,0.42, 0.15,0.05, 0.17,0.11, 0.16,0.47, 0.20,0.46, 0.23,0.47, 0.17,0.55, 0.22,0.58, 0.15,0.60, 0.56,0.35, 0.60,0.28, 0.72,0.55, 0.82,0.60, 0.85,0.72, 0.88,0.77, 0.92,0.68, 0.26,0.40, 0.30,0.36, 0.12,0.30, 0.07,0.25, 0.18,0.35, 0.50,0.30, 0.46,0.18, 0.57,0.14, 0.68,0.10, 0.75,0.02, 0.92,0.10, 0.25,0.02, 0.50,0.62, 0.55,0.66, 0.45,0.60, 0.73,0.82];
const p7NrentBand = [0.015,0.01, 0.045,0.04, 0.075,0.06, 0.105,0.09, 0.135,0.11, 0.165,0.14, 0.195,0.17, 0.225,0.20, 0.255,0.23, 0.285,0.26, 0.315,0.29, 0.345,0.32, 0.375,0.35, 0.405,0.39, 0.435,0.42, 0.465,0.46, 0.495,0.49, 0.525,0.52, 0.555,0.55, 0.585,0.58, 0.615,0.61, 0.645,0.64, 0.675,0.67, 0.705,0.70, 0.735,0.73, 0.765,0.76, 0.795,0.79, 0.825,0.82, 0.855,0.85, 0.885,0.88, 0.915,0.91, 0.945,0.94, 0.975,0.97];

// per facet: [rep_lux, rep_nlux_nrent, rep_nlux_rent]
const facetSeries = [
  [p0Lux, p0Nrent.concat(p0NrentBand), p0Rent],
  [p1Lux, p1Nrent.concat(p1NrentBand), p1Rent],
  [p2Lux, p2Nrent.concat(p2NrentBand), p2Rent],
  [p3Lux, p3Nrent.concat(p3NrentBand), p3Rent],
  [p4Lux, p4Nrent.concat(p4NrentBand), p4Rent],
  [p5Lux, p5Nrent.concat(p5NrentBand), p5Rent],
  [p6Lux, p6Nrent.concat(p6NrentBand), p6Rent],
  [p7Lux, p7Nrent.concat(p7NrentBand), p7Rent],
];

// ---------- layout ----------
const W = 868;
const H = 503;
const colX = [56, 279.3, 502.6];
const panelW = 216;
const stripTop = [33, 178.3, 323.6];
const stripH = 21;
const panelH = 116.7;
const FONT = "'Liberation Sans', Arial, Helvetica, sans-serif";
const drawOrder = [0, 2, 1];

function toPairs(a: number[]): [number, number][] {
  const out: [number, number][] = [];
  for (let i = 0; i + 1 < a.length; i += 2) out.push([a[i], a[i + 1]]);
  return out;
}

export default function App() {
  const panels = facetLabels.map((label, i) => {
    const col = i % 3;
    const row = Math.floor(i / 3);
    const x0 = colX[col];
    const y0 = stripTop[row] + stripH;
    const x = d3.scaleLinear().domain([-0.05, 1.05]).range([x0, x0 + panelW]);
    const y = d3.scaleLinear().domain([-0.05, 1.05]).range([y0 + panelH, y0]);
    const hasBottom = i + 3 >= facetLabels.length;
    return { label, i, col, row, x0, y0, x, y, hasBottom };
  });

  return (
    <svg
      width={W}
      height={H}
      viewBox={`0 0 ${W} ${H}`}
      style={{ position: "absolute", left: 0, top: 0, background: "#fff" }}
      fontFamily={FONT}
    >
      <rect x={0} y={0} width={W} height={H} fill="#fff" />
      <defs>
        {panels.map((p) => (
          <clipPath id={`clip${p.i}`} key={p.i}>
            <rect x={p.x0} y={p.y0} width={panelW} height={panelH} />
          </clipPath>
        ))}
      </defs>

      <text x={56} y={21} fontSize={17} fill="#000">
        Quantiles of pairs of ultimate and GAV
      </text>

      {panels.map((p) => (
        <g key={p.i}>
          <rect x={p.x0} y={p.y0 - stripH} width={panelW} height={stripH} fill="#D9D9D9" />
          <text x={p.x0 + panelW / 2} y={p.y0 - stripH / 2 + 4} textAnchor="middle" fontSize={11} fill="#1A1A1A">
            {p.label}
          </text>
          <rect x={p.x0} y={p.y0} width={panelW} height={panelH} fill="#EBEBEB" />
          {minorTicks.map((t) => (
            <g key={`m${t}`}>
              <line x1={p.x(t)} x2={p.x(t)} y1={p.y0} y2={p.y0 + panelH} stroke="#fff" strokeWidth={0.55} />
              <line x1={p.x0} x2={p.x0 + panelW} y1={p.y(t)} y2={p.y(t)} stroke="#fff" strokeWidth={0.55} />
            </g>
          ))}
          {tickValues.map((t) => (
            <g key={`M${t}`}>
              <line x1={p.x(t)} x2={p.x(t)} y1={p.y0} y2={p.y0 + panelH} stroke="#fff" strokeWidth={1.1} />
              <line x1={p.x0} x2={p.x0 + panelW} y1={p.y(t)} y2={p.y(t)} stroke="#fff" strokeWidth={1.1} />
            </g>
          ))}
          <g clipPath={`url(#clip${p.i})`}>
            {drawOrder.map((s) =>
              toPairs(facetSeries[p.i][s]).map(([ux, vy], k) => (
                <circle
                  key={`${s}-${k}`}
                  cx={p.x(ux)}
                  cy={p.y(vy)}
                  r={2.8}
                  fill={leafColors[s]}
                  fillOpacity={0.65}
                />
              ))
            )}
            <g>
              <rect
                x={p.x0 + panelW + 1 - 102}
                y={p.y(0) - 19.5}
                width={102}
                height={19.5}
                rx={2.5}
                fill="#fff"
                stroke="#666"
                strokeWidth={0.8}
              />
              <text
                x={p.x0 + panelW + 1 - 4.5}
                y={p.y(0) - 4.6}
                textAnchor="end"
                fontSize={15}
                fill="#000"
                style={{ whiteSpace: "pre" }}
              >
                {`Kendall:  ${kendall[p.i].toFixed(3)}`}
              </text>
            </g>
          </g>
          {p.col === 0 &&
            tickValues.map((t, k) => (
              <g key={`yl${t}`}>
                <line x1={p.x0 - 3.7} x2={p.x0} y1={p.y(t)} y2={p.y(t)} stroke="#333" strokeWidth={1.05} />
                <text x={p.x0 - 6} y={p.y(t)} dy="0.35em" textAnchor="end" fontSize={11.5} fill="#4D4D4D">
                  {tickLabels[k]}
                </text>
              </g>
            ))}
          {p.hasBottom &&
            tickValues.map((t, k) => (
              <g key={`xl${t}`}>
                <line x1={p.x(t)} x2={p.x(t)} y1={p.y0 + panelH} y2={p.y0 + panelH + 3.7} stroke="#333" strokeWidth={1.05} />
                <text x={p.x(t)} y={p.y0 + panelH + 15} textAnchor="middle" fontSize={11.5} fill="#4D4D4D">
                  {tickLabels[k]}
                </text>
              </g>
            ))}
        </g>
      ))}

      <text x={387} y={490} textAnchor="middle" fontSize={14.5} fill="#000">
        ult_u
      </text>
      <text transform="translate(20,255) rotate(-90)" textAnchor="middle" fontSize={14.5} fill="#000">
        var_u
      </text>

      <text x={740} y={225} fontSize={14.5} fill="#000">
        leaf
      </text>
      {leafNames.map((name, k) => (
        <g key={name}>
          <text x={752} y={251 + k * 23.3} textAnchor="middle" fontSize={14.5} fill={leafColors[k]} fillOpacity={0.65}>
            a
          </text>
          <text x={770} y={249.5 + k * 23.3} fontSize={11.5} fill="#1A1A1A">
            {name}
          </text>
        </g>
      ))}
    </svg>
  );
}
